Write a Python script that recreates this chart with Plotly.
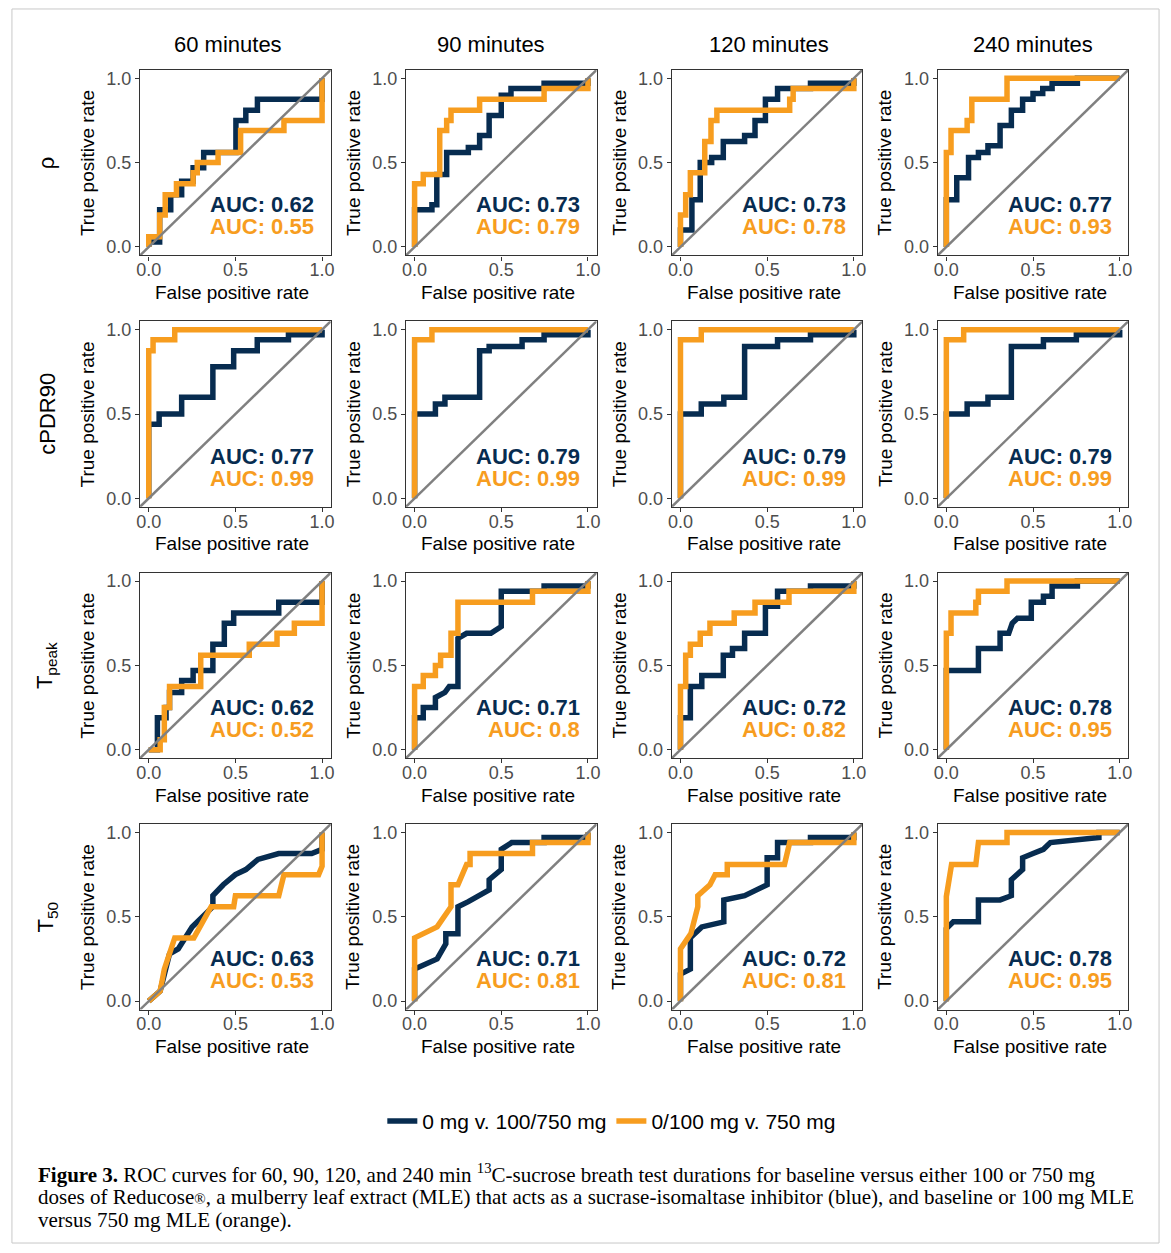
import plotly.graph_objects as go

# ---------------- data ----------------
col_titles = ["60 minutes", "90 minutes", "120 minutes", "240 minutes"]
row_titles = ["ρ", "cPDR90", "T<sub>peak</sub>", "T<sub>50</sub>"]
tick_vals = [0, 0.5, 1]
tick_text = ["0.0", "0.5", "1.0"]
series_names = ["0 mg v. 100/750 mg", "0/100 mg v. 750 mg"]

auc_blue = [["0.62", "0.73", "0.73", "0.77"],
            ["0.77", "0.79", "0.79", "0.79"],
            ["0.62", "0.71", "0.72", "0.78"],
            ["0.63", "0.71", "0.72", "0.78"]]
auc_orange = [["0.55", "0.79", "0.78", "0.93"],
              ["0.99", "0.99", "0.99", "0.99"],
              ["0.52", "0.8", "0.82", "0.95"],
              ["0.53", "0.81", "0.81", "0.95"]]

# rho
rho60_b_fpr = [0, 0, 0.063, 0.063, 0.127, 0.127, 0.19, 0.19, 0.256, 0.256, 0.317, 0.317, 0.503, 0.503, 0.56, 0.56, 0.627, 0.627, 1, 1]
rho60_b_tpr = [0, 0.03, 0.03, 0.22, 0.22, 0.31, 0.31, 0.39, 0.39, 0.47, 0.47, 0.56, 0.56, 0.75, 0.75, 0.81, 0.81, 0.875, 0.875, 1]
rho60_o_fpr = [0, 0, 0.063, 0.063, 0.095, 0.095, 0.16, 0.16, 0.256, 0.256, 0.28, 0.28, 0.4, 0.4, 0.53, 0.53, 0.78, 0.78, 1, 1]
rho60_o_tpr = [0, 0.06, 0.06, 0.19, 0.19, 0.31, 0.31, 0.375, 0.375, 0.44, 0.44, 0.5, 0.5, 0.56, 0.56, 0.69, 0.69, 0.75, 0.75, 1]

rho90_b_fpr = [0, 0, 0.1, 0.1, 0.128, 0.128, 0.185, 0.185, 0.31, 0.31, 0.375, 0.375, 0.43, 0.43, 0.5, 0.5, 0.556, 0.556, 0.747, 0.747, 1, 1]
rho90_b_tpr = [0, 0.22, 0.22, 0.25, 0.25, 0.43, 0.43, 0.56, 0.56, 0.59, 0.59, 0.66, 0.66, 0.78, 0.78, 0.9, 0.9, 0.94, 0.94, 0.97, 0.97, 1]
rho90_o_fpr = [0, 0, 0.05, 0.05, 0.145, 0.145, 0.185, 0.185, 0.21, 0.21, 0.375, 0.375, 0.747, 0.747, 1, 1]
rho90_o_tpr = [0, 0.375, 0.375, 0.43, 0.43, 0.69, 0.69, 0.75, 0.75, 0.81, 0.81, 0.875, 0.875, 0.94, 0.94, 1]

rho120_b_fpr = [0, 0, 0.066, 0.066, 0.114, 0.114, 0.18, 0.18, 0.247, 0.247, 0.37, 0.37, 0.43, 0.43, 0.49, 0.49, 0.56, 0.56, 0.75, 0.75, 1, 1]
rho120_b_tpr = [0, 0.1, 0.1, 0.28, 0.28, 0.5, 0.5, 0.53, 0.53, 0.625, 0.625, 0.66, 0.66, 0.75, 0.75, 0.875, 0.875, 0.94, 0.94, 0.97, 0.97, 1]
rho120_o_fpr = [0, 0, 0.03, 0.03, 0.057, 0.057, 0.14, 0.14, 0.176, 0.176, 0.21, 0.21, 0.63, 0.63, 0.65, 0.65, 1, 1]
rho120_o_tpr = [0, 0.19, 0.19, 0.31, 0.31, 0.44, 0.44, 0.625, 0.625, 0.75, 0.75, 0.81, 0.81, 0.875, 0.875, 0.94, 0.94, 1]

rho240_b_fpr = [0, 0, 0.06, 0.06, 0.128, 0.128, 0.185, 0.185, 0.24, 0.24, 0.31, 0.31, 0.375, 0.375, 0.44, 0.44, 0.5, 0.5, 0.556, 0.556, 0.61, 0.61, 0.756, 0.756, 1]
rho240_b_tpr = [0, 0.28, 0.28, 0.41, 0.41, 0.53, 0.53, 0.56, 0.56, 0.6, 0.6, 0.72, 0.72, 0.81, 0.81, 0.875, 0.875, 0.91, 0.91, 0.94, 0.94, 0.97, 0.97, 1, 1]
rho240_o_fpr = [0, 0, 0.027, 0.027, 0.12, 0.12, 0.147, 0.147, 0.35, 0.35, 1]
rho240_o_tpr = [0, 0.56, 0.56, 0.69, 0.69, 0.75, 0.75, 0.875, 0.875, 1, 1]

# cPDR90
cpdr60_b_fpr = [0, 0, 0.06, 0.06, 0.19, 0.19, 0.37, 0.37, 0.49, 0.49, 0.626, 0.626, 0.806, 0.806, 1, 1]
cpdr60_b_tpr = [0, 0.44, 0.44, 0.5, 0.5, 0.6, 0.6, 0.78, 0.78, 0.875, 0.875, 0.94, 0.94, 0.97, 0.97, 1]
cpdr60_o_fpr = [0, 0, 0.025, 0.025, 0.15, 0.15, 1]
cpdr60_o_tpr = [0, 0.875, 0.875, 0.94, 0.94, 1, 1]

cpdr90_b_fpr = [0, 0, 0.12, 0.12, 0.175, 0.175, 0.375, 0.375, 0.43, 0.43, 0.62, 0.62, 0.747, 0.747, 1, 1]
cpdr90_b_tpr = [0, 0.5, 0.5, 0.56, 0.56, 0.6, 0.6, 0.875, 0.875, 0.9, 0.9, 0.94, 0.94, 0.97, 0.97, 1]
cpdr90_o_fpr = [0, 0, 0.1, 0.1, 1]
cpdr90_o_tpr = [0, 0.94, 0.94, 1, 1]

cpdr120_b_fpr = [0, 0, 0.12, 0.12, 0.25, 0.25, 0.37, 0.37, 0.56, 0.56, 0.75, 0.75, 1, 1]
cpdr120_b_tpr = [0, 0.5, 0.5, 0.56, 0.56, 0.6, 0.6, 0.9, 0.9, 0.94, 0.94, 0.97, 0.97, 1]
cpdr120_o_fpr = [0, 0, 0.12, 0.12, 1]
cpdr120_o_tpr = [0, 0.94, 0.94, 1, 1]

cpdr240_b_fpr = [0, 0, 0.12, 0.12, 0.24, 0.24, 0.375, 0.375, 0.56, 0.56, 0.75, 0.75, 1, 1]
cpdr240_b_tpr = [0, 0.5, 0.5, 0.56, 0.56, 0.6, 0.6, 0.9, 0.9, 0.94, 0.94, 0.97, 0.97, 1]
cpdr240_o_fpr = [0, 0, 0.1, 0.1, 1]
cpdr240_o_tpr = [0, 0.94, 0.94, 1, 1]

# Tpeak
tpk60_b_fpr = [0, 0.05, 0.05, 0.1, 0.1, 0.12, 0.12, 0.19, 0.19, 0.256, 0.256, 0.37, 0.37, 0.436, 0.436, 0.49, 0.49, 0.75, 0.75, 1, 1]
tpk60_b_tpr = [0, 0, 0.19, 0.19, 0.25, 0.25, 0.34, 0.34, 0.41, 0.41, 0.47, 0.47, 0.625, 0.625, 0.75, 0.75, 0.81, 0.81, 0.875, 0.875, 1]
tpk60_o_fpr = [0, 0.066, 0.066, 0.09, 0.09, 0.12, 0.12, 0.3, 0.3, 0.58, 0.58, 0.74, 0.74, 0.84, 0.84, 1, 1]
tpk60_o_tpr = [0, 0, 0.06, 0.06, 0.25, 0.25, 0.375, 0.375, 0.56, 0.56, 0.625, 0.625, 0.69, 0.69, 0.75, 0.75, 1]

tpk90_b_fpr = [0, 0, 0.05, 0.05, 0.12, 0.12, 0.175, 0.2, 0.25, 0.25, 0.3, 0.44, 0.5, 0.5, 0.747, 0.747, 1, 1]
tpk90_b_tpr = [0, 0.19, 0.19, 0.25, 0.25, 0.31, 0.34, 0.375, 0.375, 0.66, 0.69, 0.69, 0.73, 0.94, 0.94, 0.97, 0.97, 1]
tpk90_o_fpr = [0, 0, 0.05, 0.05, 0.12, 0.12, 0.15, 0.15, 0.21, 0.21, 0.25, 0.25, 0.68, 0.68, 1, 1]
tpk90_o_tpr = [0, 0.375, 0.375, 0.44, 0.44, 0.5, 0.5, 0.56, 0.56, 0.69, 0.69, 0.875, 0.875, 0.94, 0.94, 1]

tpk120_b_fpr = [0, 0, 0.057, 0.057, 0.123, 0.123, 0.247, 0.247, 0.3, 0.3, 0.37, 0.37, 0.49, 0.49, 0.56, 0.56, 0.75, 0.75, 1, 1]
tpk120_b_tpr = [0, 0.19, 0.19, 0.375, 0.375, 0.44, 0.44, 0.56, 0.56, 0.6, 0.6, 0.69, 0.69, 0.85, 0.85, 0.94, 0.94, 0.97, 0.97, 1]
tpk120_o_fpr = [0, 0, 0.03, 0.03, 0.057, 0.057, 0.114, 0.114, 0.17, 0.17, 0.31, 0.31, 0.43, 0.43, 0.626, 0.626, 1, 1]
tpk120_o_tpr = [0, 0.375, 0.375, 0.56, 0.56, 0.625, 0.625, 0.69, 0.69, 0.75, 0.75, 0.81, 0.81, 0.875, 0.875, 0.94, 0.94, 1]

tpk240_b_fpr = [0, 0, 0.185, 0.185, 0.31, 0.31, 0.36, 0.38, 0.41, 0.49, 0.49, 0.56, 0.56, 0.61, 0.61, 0.756, 0.756, 1]
tpk240_b_tpr = [0, 0.47, 0.47, 0.6, 0.6, 0.69, 0.69, 0.75, 0.78, 0.78, 0.875, 0.875, 0.91, 0.91, 0.97, 0.97, 1, 1]
tpk240_o_fpr = [0, 0, 0.027, 0.027, 0.17, 0.17, 0.185, 0.185, 0.35, 0.35, 1]
tpk240_o_tpr = [0, 0.69, 0.69, 0.81, 0.81, 0.875, 0.875, 0.94, 0.94, 1, 1]

# T50
t50_60_b_fpr = [0, 0.066, 0.12, 0.17, 0.25, 0.37, 0.37, 0.43, 0.5, 0.56, 0.63, 0.75, 0.94, 1, 1]
t50_60_b_tpr = [0, 0.06, 0.28, 0.31, 0.44, 0.56, 0.625, 0.69, 0.75, 0.78, 0.84, 0.875, 0.875, 0.9, 1]
t50_60_o_fpr = [0, 0.066, 0.09, 0.15, 0.26, 0.36, 0.49, 0.5, 0.75, 0.78, 0.98, 1, 1]
t50_60_o_tpr = [0, 0.06, 0.19, 0.375, 0.375, 0.56, 0.56, 0.625, 0.625, 0.75, 0.75, 0.8, 1]

t50_90_b_fpr = [0, 0, 0.13, 0.18, 0.18, 0.25, 0.25, 0.31, 0.43, 0.43, 0.5, 0.5, 0.56, 0.747, 0.747, 1, 1]
t50_90_b_tpr = [0, 0.19, 0.25, 0.34, 0.4, 0.4, 0.56, 0.59, 0.66, 0.72, 0.78, 0.9, 0.94, 0.94, 0.97, 0.97, 1]
t50_90_o_fpr = [0, 0, 0.13, 0.21, 0.21, 0.25, 0.3, 0.32, 0.32, 0.68, 0.68, 1, 1]
t50_90_o_tpr = [0, 0.375, 0.44, 0.56, 0.69, 0.69, 0.81, 0.81, 0.875, 0.875, 0.94, 0.94, 1]

t50_120_b_fpr = [0, 0, 0.057, 0.057, 0.123, 0.25, 0.25, 0.37, 0.5, 0.5, 0.56, 0.56, 0.75, 0.75, 1, 1]
t50_120_b_tpr = [0, 0.16, 0.19, 0.375, 0.44, 0.47, 0.6, 0.625, 0.69, 0.85, 0.85, 0.94, 0.94, 0.97, 0.97, 1]
t50_120_o_fpr = [0, 0, 0.06, 0.1, 0.1, 0.17, 0.2, 0.27, 0.27, 0.6, 0.63, 1, 1]
t50_120_o_tpr = [0, 0.31, 0.4, 0.56, 0.625, 0.69, 0.75, 0.75, 0.81, 0.81, 0.94, 0.94, 1]

t50_240_b_fpr = [0, 0, 0.04, 0.185, 0.185, 0.31, 0.375, 0.375, 0.44, 0.44, 0.5, 0.56, 0.6, 0.88, 0.88, 1]
t50_240_b_tpr = [0, 0.43, 0.47, 0.47, 0.6, 0.6, 0.625, 0.72, 0.78, 0.85, 0.875, 0.9, 0.94, 0.97, 1, 1]
t50_240_o_fpr = [0, 0, 0.03, 0.17, 0.185, 0.35, 0.35, 1]
t50_240_o_tpr = [0, 0.62, 0.81, 0.81, 0.94, 0.94, 1, 1]

blue_curves = [
    [(rho60_b_fpr, rho60_b_tpr), (rho90_b_fpr, rho90_b_tpr), (rho120_b_fpr, rho120_b_tpr), (rho240_b_fpr, rho240_b_tpr)],
    [(cpdr60_b_fpr, cpdr60_b_tpr), (cpdr90_b_fpr, cpdr90_b_tpr), (cpdr120_b_fpr, cpdr120_b_tpr), (cpdr240_b_fpr, cpdr240_b_tpr)],
    [(tpk60_b_fpr, tpk60_b_tpr), (tpk90_b_fpr, tpk90_b_tpr), (tpk120_b_fpr, tpk120_b_tpr), (tpk240_b_fpr, tpk240_b_tpr)],
    [(t50_60_b_fpr, t50_60_b_tpr), (t50_90_b_fpr, t50_90_b_tpr), (t50_120_b_fpr, t50_120_b_tpr), (t50_240_b_fpr, t50_240_b_tpr)],
]
orange_curves = [
    [(rho60_o_fpr, rho60_o_tpr), (rho90_o_fpr, rho90_o_tpr), (rho120_o_fpr, rho120_o_tpr), (rho240_o_fpr, rho240_o_tpr)],
    [(cpdr60_o_fpr, cpdr60_o_tpr), (cpdr90_o_fpr, cpdr90_o_tpr), (cpdr120_o_fpr, cpdr120_o_tpr), (cpdr240_o_fpr, cpdr240_o_tpr)],
    [(tpk60_o_fpr, tpk60_o_tpr), (tpk90_o_fpr, tpk90_o_tpr), (tpk120_o_fpr, tpk120_o_tpr), (tpk240_o_fpr, tpk240_o_tpr)],
    [(t50_60_o_fpr, t50_60_o_tpr), (t50_90_o_fpr, t50_90_o_tpr), (t50_120_o_fpr, t50_120_o_tpr), (t50_240_o_fpr, t50_240_o_tpr)],
]

# ---------------- styling / layout ----------------
W, H = 1171, 1253
BLUE = "#072c50"
ORANGE = "#f79d1f"
GRAY = "#808080"
SANS = "Liberation Sans, Arial, sans-serif"
SERIF = "Liberation Serif, Times New Roman, serif"

def X(px):
    return px / W

def Y(py):
    return 1 - py / H

PANEL_L0, PANEL_T0 = 137, 69
PANEL_W, PANEL_H = 192, 186
DX, DY = 267.7, 252
RANGE = [-0.05, 1.05]

fig = go.Figure()
layout_axes = {}
annotations = []

for r in range(4):
    for c in range(4):
        k = r * 4 + c + 1
        xname = "x" if k == 1 else f"x{k}"
        yname = "y" if k == 1 else f"y{k}"
        left = PANEL_L0 + c * DX
        top = PANEL_T0 + r * DY
        axis_common = dict(
            range=RANGE, tickvals=tick_vals, ticktext=tick_text,
            ticks="outside", ticklen=4, tickwidth=1.2, tickcolor="#333333",
            showline=True, linecolor="#333333", linewidth=1.3, mirror=True,
            showgrid=False, zeroline=False, fixedrange=True,
            tickfont=dict(family=SANS, size=18, color="#4d4d4d"),
        )
        layout_axes["xaxis" if k == 1 else f"xaxis{k}"] = dict(
            domain=[X(left), X(left + PANEL_W)], anchor=yname,
            ticklabelstandoff=-6, **axis_common)
        layout_axes["yaxis" if k == 1 else f"yaxis{k}"] = dict(
            domain=[Y(top + PANEL_H), Y(top)], anchor=xname, **axis_common)

        bx, by = blue_curves[r][c]
        ox, oy = orange_curves[r][c]
        first = (k == 1)
        fig.add_trace(go.Scatter(x=bx, y=by, xaxis=xname, yaxis=yname, mode="lines",
                                 line=dict(color=BLUE, width=5.5), name=series_names[0],
                                 showlegend=first, legendgroup="b", hoverinfo="skip"))
        fig.add_trace(go.Scatter(x=ox, y=oy, xaxis=xname, yaxis=yname, mode="lines",
                                 line=dict(color=ORANGE, width=5.5), name=series_names[1],
                                 showlegend=first, legendgroup="o", hoverinfo="skip"))
        fig.add_trace(go.Scatter(x=RANGE, y=RANGE, xaxis=xname, yaxis=yname, mode="lines",
                                 line=dict(color=GRAY, width=2.5), showlegend=False,
                                 hoverinfo="skip"))

        # AUC labels
        annotations.append(dict(xref=xname, yref=yname, x=0.96, y=0.25, xanchor="right",
                                yanchor="middle", showarrow=False, borderpad=0,
                                text=f"<b>AUC: {auc_blue[r][c]}</b>",
                                font=dict(family=SANS, size=22, color=BLUE)))
        annotations.append(dict(xref=xname, yref=yname, x=0.96, y=0.12, xanchor="right",
                                yanchor="middle", showarrow=False, borderpad=0,
                                text=f"<b>AUC: {auc_orange[r][c]}</b>",
                                font=dict(family=SANS, size=22, color=ORANGE)))
        # axis titles
        annotations.append(dict(xref="paper", yref="paper", x=X(left + PANEL_W / 2 - 3),
                                y=Y(top + 223), xanchor="center", yanchor="middle",
                                showarrow=False, text="False positive rate",
                                font=dict(family=SANS, size=19, color="black")))
        annotations.append(dict(xref="paper", yref="paper", x=X(left - 53),
                                y=Y(top + PANEL_H / 2), xanchor="center", yanchor="middle",
                                showarrow=False, text="True positive rate", textangle=-90,
                                font=dict(family=SANS, size=19, color="black")))

col_centers = [228, 492, 772, 1038]
for c in range(4):
    annotations.append(dict(xref="paper", yref="paper", x=X(col_centers[c] - 2), y=Y(44),
                            xanchor="center", yanchor="middle", showarrow=False,
                            text=col_titles[c], font=dict(family=SANS, size=22, color="black")))
for r in range(4):
    annotations.append(dict(xref="paper", yref="paper", x=X(43),
                            y=Y(PANEL_T0 + r * DY + PANEL_H / 2), xanchor="center",
                            yanchor="middle", showarrow=False, text=row_titles[r],
                            textangle=-90, font=dict(family=SANS, size=22, color="black")))

caption_lines = [
    "<b>Figure 3.</b> ROC curves for 60, 90, 120, and 240 min <sup>13</sup>C-sucrose breath test durations for baseline versus either 100 or 750 mg",
    "doses of Reducose<span style='font-size:15px'>®</span>, a mulberry leaf extract (MLE) that acts as a sucrase-isomaltase inhibitor (blue), and baseline or 100 mg MLE",
    "versus 750 mg MLE (orange).",
]
cap_y = [1175, 1199, 1222]
for line, yy in zip(caption_lines, cap_y):
    annotations.append(dict(xref="paper", yref="paper", x=X(32), y=Y(yy), xanchor="left",
                            yanchor="middle", showarrow=False, text=line, align="left",
                            font=dict(family=SERIF, size=21, color="black")))

fig.update_layout(
    width=W, height=H, margin=dict(l=0, r=0, t=0, b=0),
    paper_bgcolor="white", plot_bgcolor="white",
    annotations=annotations,
    showlegend=True,
    legend=dict(orientation="h", x=X(612), xanchor="center", y=Y(1123), yanchor="middle",
                font=dict(family=SANS, size=21, color="black"), itemwidth=30,
                bgcolor="rgba(0,0,0,0)"),
    shapes=[dict(type="rect", xref="paper", yref="paper", x0=X(8), x1=X(1163),
                 y0=Y(1245), y1=Y(8), line=dict(color="#c8c8c8", width=1))],
    **layout_axes,
)

fig.write_html("out.html", config={"displayModeBar": False},
               post_script="document.body.style.margin='0';document.body.style.overflow='hidden';")
